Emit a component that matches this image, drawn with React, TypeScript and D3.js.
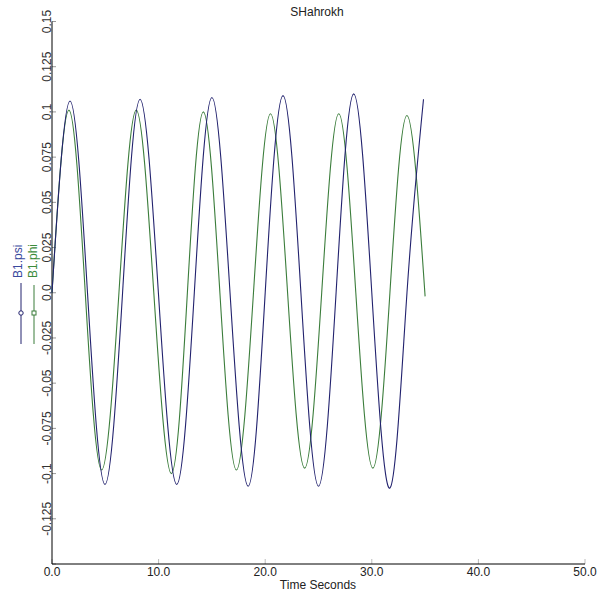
import React from "react";
import * as d3 from "d3";

const title = "SHahrokh";
const xTitle = "Time Seconds";
const xTicks = [0, 10, 20, 30, 40, 50];
const yTicks = [-0.15, -0.125, -0.1, -0.075, -0.05, -0.025, 0, 0.025, 0.05, 0.075, 0.1, 0.125, 0.15];
const yTickLabels = ["", "-0.125", "-0.1", "-0.075", "-0.05", "-0.025", "0.0", "0.025", "0.05", "0.075", "0.1", "0.125", "0.15"];

// B1.psi: key points (time, value)
const psiTime = [0, 1.69, 3.33, 4.97, 6.62, 8.26, 9.98, 11.7, 13.35, 15.0, 16.7, 18.4, 20.0, 21.67, 23.35, 25.0, 26.65, 28.3, 30.0, 31.7, 33.3, 34.85];
const psiValue = [0, 0.106, 0, -0.106, 0, 0.107, 0, -0.106, 0, 0.108, 0, -0.107, 0, 0.109, 0, -0.107, 0, 0.11, 0, -0.108, 0, 0.107];

// B1.phi
const phiTime = [0, 1.59, 3.12, 4.66, 6.28, 7.9, 9.55, 11.2, 12.7, 14.2, 15.75, 17.3, 18.9, 20.5, 22.1, 23.7, 25.3, 26.9, 28.5, 30.1, 31.7, 33.3, 35.0];
const phiValue = [0, 0.101, 0, -0.098, 0, 0.101, 0, -0.1, 0, 0.1, 0, -0.098, 0, 0.099, 0, -0.097, 0, 0.099, 0, -0.097, 0, 0.098, -0.002];

const W = 598;
const H = 600;
const FONT = "'Liberation Sans', Arial, sans-serif";

export default function App() {
  const x = d3.scaleLinear().domain([0, 50]).range([52, 585]);
  const y = d3.scaleLinear().domain([-0.15, 0.15]).range([564, 21.5]);

  const line = d3
    .line<[number, number]>()
    .x((d) => x(d[0]))
    .y((d) => y(d[1]))
    .curve(d3.curveNatural);

  const psi = psiTime.map((t, i) => [t, psiValue[i]] as [number, number]);
  const phi = phiTime.map((t, i) => [t, phiValue[i]] as [number, number]);

  const blue = "#22226e";
  const green = "#3b7d3b";

  return (
    <svg
      width={W}
      height={H}
      style={{ position: "absolute", left: 0, top: 0, background: "#fff" }}
      fontFamily={FONT}
    >
      <rect x={0} y={0} width={W} height={H} fill="#fff" />
      <text x={317} y={16} fontSize={12} textAnchor="middle" fill="#222">
        {title}
      </text>

      {/* y ticks */}
      {yTicks.map((v, i) => (
        <g key={"y" + i}>
          <line x1={x(0)} x2={x(0) + 4} y1={y(v)} y2={y(v)} stroke="#999" />
          {yTickLabels[i] && (
            <text
              transform={`translate(${51},${y(v)}) rotate(-90)`}
              fontSize={12}
              textAnchor="middle"
              fill="#333"
            >
              {yTickLabels[i]}
            </text>
          )}
        </g>
      ))}

      {/* x ticks */}
      {xTicks.map((v) => (
        <g key={"x" + v}>
          <line x1={x(v)} x2={x(v)} y1={y(-0.15)} y2={y(-0.15) - 5} stroke="#bbb" />
          <text x={x(v)} y={576} fontSize={12} textAnchor="middle" fill="#222">
            {v.toFixed(1)}
          </text>
        </g>
      ))}
      <text x={318} y={589} fontSize={12} textAnchor="middle" fill="#222">
        {xTitle}
      </text>

      {/* axes */}
      <line x1={x(0)} x2={x(0)} y1={y(0.15)} y2={y(-0.15)} stroke="#000" />
      <line x1={x(0)} x2={x(50)} y1={y(-0.15)} y2={y(-0.15)} stroke="#000" />

      {/* series */}
      <path d={line(phi) || ""} fill="none" stroke={green} strokeWidth={1.1} />
      <path d={line(psi) || ""} fill="none" stroke={blue} strokeWidth={1.1} />

      {/* legend */}
      <text
        transform={`translate(22,278) rotate(-90)`}
        fontSize={12}
        fill="#3b4a9e"
      >
        B1.psi
      </text>
      <line x1={21} x2={21} y1={283} y2={344} stroke={blue} />
      <circle cx={21} cy={313} r={2.2} fill="#fff" stroke={blue} />
      <text
        transform={`translate(37,278) rotate(-90)`}
        fontSize={12}
        fill="#3c8c3c"
      >
        B1.phi
      </text>
      <line x1={34} x2={34} y1={285} y2={344} stroke={green} />
      <rect x={32} y={311} width={4} height={4} fill="#fff" stroke={green} />
    </svg>
  );
}
